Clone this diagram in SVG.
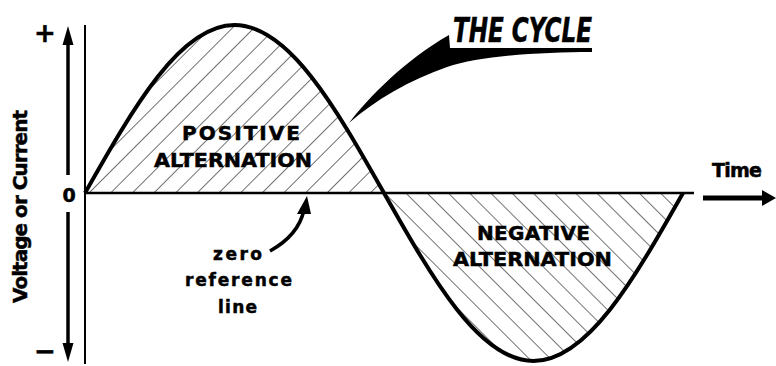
<svg xmlns="http://www.w3.org/2000/svg" width="776" height="366" viewBox="0 0 776 366">
<style>
.lbl{font-family:"DejaVu Sans","Liberation Sans",sans-serif;font-weight:bold;fill:#000;stroke:#000;stroke-width:0.5}
.ax{stroke:#000;fill:none}
</style>
<defs>
<pattern id="hp" patternUnits="userSpaceOnUse" width="15.3" height="15.3" patternTransform="rotate(45)">
<line x1="0" y1="0" x2="0" y2="15.3" stroke="#000" stroke-width="1.1"/>
</pattern>
<pattern id="hn" patternUnits="userSpaceOnUse" width="15" height="15" patternTransform="rotate(-45)">
<line x1="0" y1="0" x2="0" y2="15" stroke="#000" stroke-width="1.1"/>
</pattern>
</defs>
<rect width="776" height="366" fill="#fff"/>

<g id="hatch-positive">
<path d="M85,193 C133.75,106.93 180.39,25 234.5,25 C288.6,25 335.25,106.93 384,193 Z" fill="url(#hp)"/>
</g>
<g id="hatch-negative">
<path d="M384,193 C432.75,279.07 479.39,361 533.5,361 C587.6,361 634.25,279.07 683,193 Z" fill="url(#hn)"/>
</g>

<g id="connectors">
<line class="ax" x1="85" y1="25" x2="85" y2="364" stroke-width="2"/>
<line class="ax" x1="85" y1="193" x2="694" y2="193" stroke-width="2.5"/>
<line class="ax" x1="68" y1="42" x2="68" y2="175" stroke-width="3.5"/>
<polygon points="68,26 62.5,45 73.5,45" fill="#000"/>
<line class="ax" x1="68" y1="212" x2="68" y2="346" stroke-width="3.5"/>
<polygon points="68,362 62.5,343 73.5,343" fill="#000"/>
<line class="ax" x1="703" y1="198" x2="765" y2="198" stroke-width="5"/>
<polygon points="776,198 762,190 762,206" fill="#000"/>
<path class="ax" d="M270,251 C288,241 300,228 304,210" stroke-width="3.5"/>
<polygon points="307,196 297,214 311,214" fill="#000"/>
</g>

<g id="wave">
<path class="ax" stroke-width="4" d="M85,193 C133.75,106.93 180.39,25 234.5,25 C288.6,25 335.25,106.93 384,193 C432.75,279.07 479.39,361 533.5,361 C587.6,361 634.25,279.07 683,193"/>
</g>

<g id="the-cycle">
<path d="M349,123 C368,98 405,60 449,35 L450,48 L592,48 L592,52 C540,52 480,56 447,67 C410,80 375,100 349,123 Z" fill="#000"/>
<text class="lbl" x="453" y="42" font-size="34" font-style="italic" style="font-family:'DejaVu Sans Condensed','DejaVu Sans',sans-serif" textLength="139" lengthAdjust="spacingAndGlyphs">THE CYCLE</text>
</g>

<g id="positive-label">
<text class="lbl" x="182" y="140" font-size="20" textLength="118" lengthAdjust="spacing">POSITIVE</text>
<text class="lbl" x="154" y="167" font-size="20" textLength="158" lengthAdjust="spacingAndGlyphs">ALTERNATION</text>
</g>

<g id="negative-label">
<text class="lbl" x="477" y="240" font-size="20" textLength="113" lengthAdjust="spacing">NEGATIVE</text>
<text class="lbl" x="453" y="266" font-size="20" textLength="159" lengthAdjust="spacingAndGlyphs">ALTERNATION</text>
</g>

<g id="zero-label">
<text class="lbl" x="213" y="260" font-size="17" textLength="49" lengthAdjust="spacing">zero</text>
<text class="lbl" x="185" y="286" font-size="17" textLength="107" lengthAdjust="spacing">reference</text>
<text class="lbl" x="218" y="313" font-size="17" textLength="39" lengthAdjust="spacing">line</text>
</g>

<g id="time-label">
<text class="lbl" x="712" y="177" font-size="19" textLength="50" lengthAdjust="spacing">Time</text>
</g>

<g id="axis-labels">
<text class="lbl" x="45" y="42" font-size="26" text-anchor="middle">+</text>
<text class="lbl" x="69" y="202" font-size="19" text-anchor="middle">0</text>
<text class="lbl" x="45" y="360" font-size="26" text-anchor="middle">−</text>
<text class="lbl" transform="translate(27,303) rotate(-90)" x="0" y="0" font-size="20" textLength="193" lengthAdjust="spacing">Voltage or Current</text>
</g>
</svg>
